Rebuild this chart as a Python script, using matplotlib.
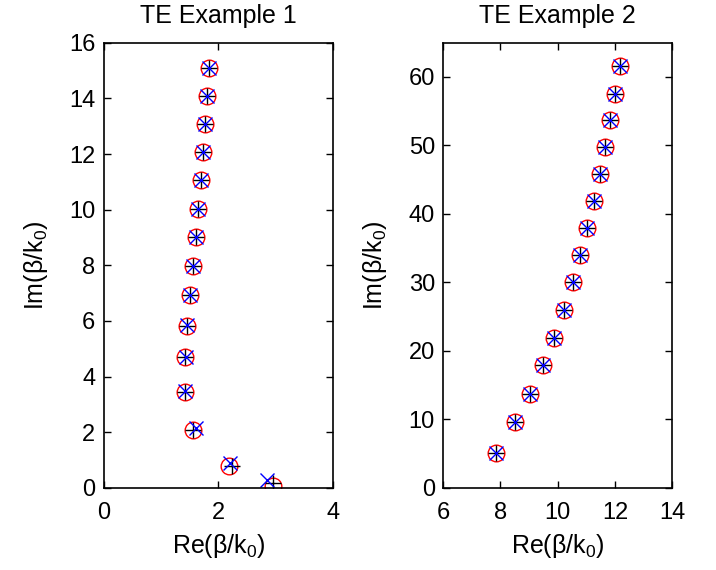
import matplotlib.pyplot as plt

plt.rcParams['font.family'] = ['Liberation Sans', 'DejaVu Sans']
plt.rcParams['mathtext.fontset'] = 'custom'
plt.rcParams['mathtext.rm'] = 'Liberation Sans'
plt.rcParams['mathtext.it'] = 'Liberation Sans'

# TE example 1: three root sets (circle, plus, cross)
re1_o = [1.838, 1.805, 1.770, 1.729, 1.689, 1.642, 1.601, 1.549, 1.502, 1.456, 1.421, 1.409, 1.549, 2.189, 2.945]
im1_o = [15.08, 14.08, 13.08, 12.07, 11.06, 10.04, 9.03, 7.99, 6.93, 5.83, 4.69, 3.46, 2.09, 0.77, 0.07]
re1_p = [1.838, 1.805, 1.770, 1.729, 1.689, 1.642, 1.601, 1.549, 1.502, 1.456, 1.421, 1.409, 1.549, 2.240, 2.957]
im1_p = [15.08, 14.08, 13.08, 12.07, 11.06, 10.04, 9.03, 7.99, 6.93, 5.83, 4.69, 3.46, 2.09, 0.80, 0.17]
re1_x = [1.838, 1.805, 1.770, 1.729, 1.689, 1.642, 1.601, 1.549, 1.502, 1.460, 1.430, 1.425, 1.607, 2.207, 2.853]
im1_x = [15.08, 14.08, 13.08, 12.07, 11.06, 10.04, 9.03, 7.99, 6.93, 5.85, 4.70, 3.50, 2.15, 0.91, 0.29]

# TE example 2: all three sets coincide
re2 = [12.165, 12.003, 11.839, 11.653, 11.466, 11.268, 11.035, 10.790, 10.52, 10.23, 9.88, 9.50, 9.02, 8.50, 7.86]
im2 = [61.54, 57.58, 53.72, 49.77, 45.81, 41.86, 37.96, 34.01, 30.0, 26.0, 21.95, 17.9, 13.75, 9.56, 5.11]

fig = plt.figure(figsize=(7.16, 5.70), dpi=100)
ax1 = fig.add_axes([0.145, 0.144, 0.320, 0.781])
ax2 = fig.add_axes([0.619, 0.144, 0.320, 0.781])

ms = 12


def draw(ax, ro, io, rp, ip, rx, ix):
    ax.plot(ro, io, 'o', ms=ms, mfc='none', mec='red', mew=1.0)
    ax.plot(rp, ip, '+', ms=ms, color='black', mew=1.0)
    ax.plot(rx, ix, 'x', ms=ms * 0.85, color='blue', mew=1.0)


draw(ax1, re1_o, im1_o, re1_p, im1_p, re1_x, im1_x)
draw(ax2, re2, im2, re2, im2, re2, im2)

ax1.set_xlim(0, 4)
ax1.set_ylim(0, 16)
ax1.set_xticks([0, 2, 4])
ax1.set_yticks(range(0, 17, 2))
ax1.set_title('TE Example 1', fontsize=18, pad=14)

ax2.set_xlim(6, 14)
ax2.set_ylim(0, 65)
ax2.set_xticks(range(6, 15, 2))
ax2.set_yticks(range(0, 61, 10))
ax2.set_title('TE Example 2', fontsize=18, pad=14)

for ax in (ax1, ax2):
    ax.set_xlabel('Re(β/k$_{0}$)', fontsize=18, labelpad=6)
    ax.set_ylabel('Im(β/k$_{0}$)', fontsize=18, labelpad=14)
    ax.tick_params(direction='in', top=True, right=True, labelsize=17, length=5, width=1)
    ax.tick_params(axis='x', pad=10)
    ax.tick_params(axis='y', pad=6)
    for s in ax.spines.values():
        s.set_linewidth(1.2)

fig.savefig('out.png', dpi=100)
